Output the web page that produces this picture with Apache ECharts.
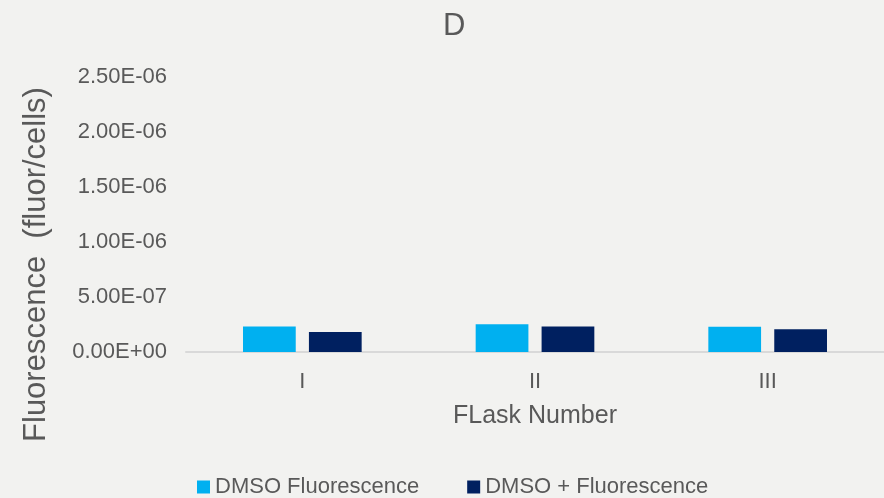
<!DOCTYPE html>
<html>
<head>
<meta charset="utf-8">
<script src="https://cdn.jsdelivr.net/npm/echarts@6/dist/echarts.min.js"></script>
<style>
  html, body { margin: 0; padding: 0; background: #f2f2f0; }
  #chart { width: 884px; height: 498px; }
</style>
</head>
<body>
<div id="chart"></div>
<script>
  // flasks on the x axis
  const flasks = ["I", "II", "III"];
  // fluorescence per cell
  const dmsoFluor = [2.31e-7, 2.52e-7, 2.29e-7];
  const dmsoPlusFluor = [1.82e-7, 2.31e-7, 2.07e-7];

  const textColor = "#595959";
  const font = "Liberation Sans";

  const chart = echarts.init(document.getElementById("chart"));

  // 2.50E-06 style labels
  function sci(v) {
    const parts = v.toExponential(2).split("e");
    let exp = parseInt(parts[1], 10);
    const sign = exp < 0 ? "-" : "+";
    exp = Math.abs(exp);
    return parts[0] + "E" + sign + (exp < 10 ? "0" + exp : exp);
  }

  chart.setOption({
    backgroundColor: "#f2f2f0",
    textStyle: { fontFamily: font, color: textColor },
    title: {
      text: "D",
      left: 438,
      top: 6,
      textStyle: { fontFamily: font, fontSize: 31, fontWeight: "normal", color: textColor }
    },
    legend: {
      top: 476,
      left: 197,
      padding: 0,
      itemWidth: 13,
      itemHeight: 13,
      itemGap: 48,
      icon: "rect",
      textStyle: { fontSize: 22, color: textColor },
      data: ["DMSO Fluorescence", "DMSO + Fluorescence"]
    },
    grid: { left: 186, right: -3, top: 77, bottom: 146 },
    xAxis: {
      type: "category",
      data: flasks,
      name: "FLask Number",
      nameLocation: "middle",
      nameGap: 52,
      nameTextStyle: { fontSize: 25, color: textColor },
      axisLine: { lineStyle: { color: "#d9d9d9", width: 2 } },
      axisTick: { show: false },
      axisLabel: { fontSize: 22, color: textColor, margin: 19 }
    },
    yAxis: {
      type: "value",
      min: 0,
      max: 2.5e-6,
      interval: 5e-7,
      name: "Fluorescence  (fluor/cells)",
      nameLocation: "middle",
      nameGap: 134,
      nameTextStyle: { fontSize: 31, color: textColor, padding: [0, 100, 0, 0] },
      splitLine: { show: false },
      axisLine: { show: false },
      axisTick: { show: false },
      axisLabel: { fontSize: 22, color: textColor, margin: 19, formatter: sci }
    },
    series: [
      {
        name: "DMSO Fluorescence",
        type: "bar",
        data: dmsoFluor,
        barGap: "25%",
        barCategoryGap: "49%",
        itemStyle: { color: "#00b0f0" }
      },
      {
        name: "DMSO + Fluorescence",
        type: "bar",
        data: dmsoPlusFluor,
        itemStyle: { color: "#002060" }
      }
    ]
  });
</script>
</body>
</html>
